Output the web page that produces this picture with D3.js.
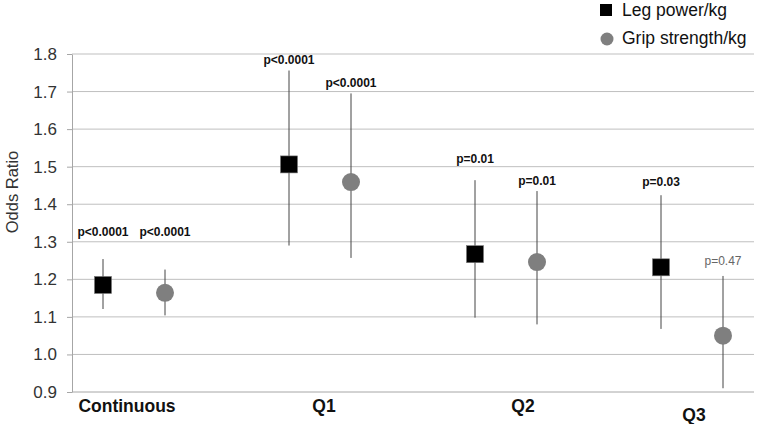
<!DOCTYPE html>
<html>
<head>
<meta charset="utf-8">
<script src="https://cdn.jsdelivr.net/npm/d3@7"></script>
<style>
  body { margin: 0; background: #fff; }
  svg { font-family: "Liberation Sans", Arial, sans-serif; }
</style>
</head>
<body>
<div id="chart"></div>
<script>
// categories and series
const categories = ['Continuous', 'Q1', 'Q2', 'Q3'];
const seriesNames = ['Leg power/kg', 'Grip strength/kg'];

// odds ratios with 95% CI
const legOR   = [1.185, 1.506, 1.267, 1.232];
const legLow  = [1.121, 1.290, 1.098, 1.068];
const legHigh = [1.254, 1.756, 1.464, 1.424];

const gripOR   = [1.164, 1.459, 1.246, 1.050];
const gripLow  = [1.104, 1.257, 1.080, 0.910];
const gripHigh = [1.226, 1.695, 1.435, 1.209];

// p values and the height (in odds ratio units) where each one sits
const legP    = ['p<0.0001', 'p<0.0001', 'p=0.01', 'p=0.03'];
const gripP   = ['p<0.0001', 'p<0.0001', 'p=0.01', 'p=0.47'];
const legPAt  = [1.326, 1.783, 1.520, 1.458];
const gripPAt = [1.326, 1.724, 1.461, 1.248];

const yTicks = [0.9, 1.0, 1.1, 1.2, 1.3, 1.4, 1.5, 1.6, 1.7, 1.8];

const W = 757, H = 424;
const svg = d3.select('#chart').append('svg')
    .attr('width', W)
    .attr('height', H);

const y = d3.scaleLinear().domain([0.9, 1.8]).range([392, 54]);
const x = d3.scalePoint().domain(categories).range([134, 692]);
const offset = { 'Leg power/kg': -31, 'Grip strength/kg': 31 };

// gridlines
svg.append('g')
    .selectAll('line')
    .data(yTicks)
    .enter().append('line')
    .attr('x1', 72).attr('x2', 754)
    .attr('y1', d => y(d)).attr('y2', d => y(d))
    .attr('stroke', d => d === 0.9 ? '#a6a6a6' : '#bfbfbf')
    .attr('stroke-width', 1);

// y axis
const yAxis = d3.axisLeft(y).tickValues(yTicks).tickFormat(d3.format('.1f')).tickSize(5).tickSizeOuter(0);
const gy = svg.append('g')
    .attr('transform', 'translate(72,0)')
    .call(yAxis);
gy.select('.domain').attr('stroke', '#a6a6a6');
gy.selectAll('.tick line').attr('stroke', '#a6a6a6');
gy.selectAll('.tick text')
    .attr('x', -15)
    .attr('font-size', 17)
    .attr('fill', '#333')
    .style('font-family', '"Liberation Sans", Arial, sans-serif');

svg.append('text')
    .attr('transform', 'translate(18,192) rotate(-90)')
    .attr('text-anchor', 'middle')
    .attr('font-size', 16.5)
    .attr('fill', '#333')
    .text('Odds Ratio');

// category labels (the original has them slightly staggered)
const labelDx = [-7, 4, 17, 2];
const labelDy = [20, 20, 20, 29];
svg.append('g')
    .selectAll('text')
    .data(categories)
    .enter().append('text')
    .attr('x', (d, i) => x(d) + labelDx[i])
    .attr('y', (d, i) => 392 + labelDy[i])
    .attr('text-anchor', 'middle')
    .attr('font-size', 17.5)
    .attr('font-weight', 'bold')
    .attr('fill', '#111')
    .text(d => d);

function rows(or, lo, hi, p, pAt, name) {
    return categories.map((c, i) => ({
        cat: c, or: or[i], lo: lo[i], hi: hi[i], p: p[i], pAt: pAt[i], name: name
    }));
}
const legData = rows(legOR, legLow, legHigh, legP, legPAt, seriesNames[0]);
const gripData = rows(gripOR, gripLow, gripHigh, gripP, gripPAt, seriesNames[1]);
const all = legData.concat(gripData);

// whiskers
svg.append('g')
    .selectAll('line')
    .data(all)
    .enter().append('line')
    .attr('x1', d => x(d.cat) + offset[d.name])
    .attr('x2', d => x(d.cat) + offset[d.name])
    .attr('y1', d => y(d.lo))
    .attr('y2', d => y(d.hi))
    .attr('stroke', '#444')
    .attr('stroke-width', 1);

// markers
const sq = 17;
svg.append('g')
    .selectAll('rect')
    .data(legData)
    .enter().append('rect')
    .attr('x', d => x(d.cat) + offset[d.name] - sq / 2)
    .attr('y', d => y(d.or) - sq / 2)
    .attr('width', sq)
    .attr('height', sq)
    .attr('fill', '#000')
    .attr('stroke', '#777')
    .attr('stroke-width', 0.6);

svg.append('g')
    .selectAll('circle')
    .data(gripData)
    .enter().append('circle')
    .attr('cx', d => x(d.cat) + offset[d.name])
    .attr('cy', d => y(d.or))
    .attr('r', 9)
    .attr('fill', '#7f7f7f');

// p value labels
svg.append('g')
    .selectAll('text')
    .data(all)
    .enter().append('text')
    .attr('x', d => x(d.cat) + offset[d.name])
    .attr('y', d => y(d.pAt) + 4)
    .attr('text-anchor', 'middle')
    .attr('font-size', 12)
    .attr('font-weight', d => d.p === 'p=0.47' ? 'normal' : 'bold')
    .attr('fill', d => d.p === 'p=0.47' ? '#666' : '#111')
    .text(d => d.p);

// legend
const legend = svg.append('g');
legend.append('rect')
    .attr('x', 600).attr('y', 4)
    .attr('width', 12).attr('height', 12)
    .attr('fill', '#000');
legend.append('circle')
    .attr('cx', 607).attr('cy', 39)
    .attr('r', 6.5)
    .attr('fill', '#7f7f7f');
legend.selectAll('text.lg')
    .data(seriesNames)
    .enter().append('text')
    .attr('class', 'lg')
    .attr('x', 622)
    .attr('y', (d, i) => 16 + i * 28)
    .attr('font-size', 17.5)
    .attr('fill', '#111')
    .text(d => d);
</script>
</body>
</html>
